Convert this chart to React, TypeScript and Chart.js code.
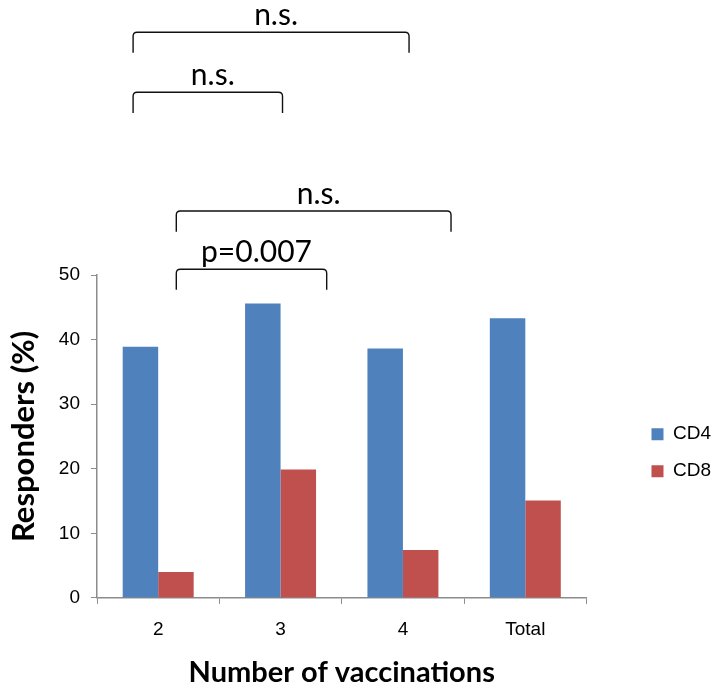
import React, { useEffect, useRef } from 'react';
import { Chart, registerables } from 'chart.js';

Chart.register(...registerables);

const categories = ['2', '3', '4', 'Total'];
const cd4Values = [38.9, 45.6, 38.6, 43.3];
const cd8Values = [4.0, 19.9, 7.4, 15.1];
const yTickValues = [0, 10, 20, 30, 40, 50];

// significance brackets (x in category-index units, y in data units)
const bracketLabels = ['n.s.', 'n.s.', 'n.s.', 'p=0.007'];
const bracketStart = [-0.205, -0.205, 0.148, 0.148];
const bracketEnd = [2.05, 1.016, 2.393, 1.377];
const bracketTop = [87.6, 78.3, 59.9, 50.9];
const bracketFoot = [84.4, 75.1, 56.7, 47.7];

const bracketPlugin = {
  id: 'brackets',
  afterDraw(chart: any) {
    const { ctx } = chart;
    const xs = chart.scales.x;
    const ys = chart.scales.y;
    const x0 = xs.getPixelForValue(0);
    const step = xs.getPixelForValue(1) - x0;
    const px = (v: number) => x0 + v * step;
    ctx.save();
    ctx.strokeStyle = '#111';
    ctx.lineWidth = 1.4;
    ctx.fillStyle = '#000';
    ctx.font = '30px Lato';
    ctx.textAlign = 'center';
    ctx.textBaseline = 'alphabetic';
    bracketLabels.forEach((label, i) => {
      const l = px(bracketStart[i]);
      const r = px(bracketEnd[i]);
      const t = ys.getPixelForValue(bracketTop[i]);
      const f = ys.getPixelForValue(bracketFoot[i]);
      const rad = 4;
      ctx.beginPath();
      ctx.moveTo(l, f);
      ctx.lineTo(l, t + rad);
      ctx.quadraticCurveTo(l, t, l + rad, t);
      ctx.lineTo(r - rad, t);
      ctx.quadraticCurveTo(r, t, r, t + rad);
      ctx.lineTo(r, f);
      ctx.stroke();
      ctx.fillText(label, (l + r) / 2 + 5, t - 7);
    });
    ctx.restore();
  },
};

export default function App() {
  const ref = useRef<HTMLCanvasElement | null>(null);
  useEffect(() => {
    if (!ref.current) return;
    const axisColor = '#8c8c8c';
    const chart = new Chart(ref.current, {
      type: 'bar',
      data: {
        labels: categories,
        datasets: [
          {
            label: 'CD4',
            data: cd4Values,
            backgroundColor: '#4F81BD',
            categoryPercentage: 0.58,
            barPercentage: 1.0,
          },
          {
            label: 'CD8',
            data: cd8Values,
            backgroundColor: '#C0504D',
            categoryPercentage: 0.58,
            barPercentage: 1.0,
          },
        ],
      },
      options: {
        animation: false,
        responsive: false,
        maintainAspectRatio: false,
        layout: { padding: { top: 275, bottom: 0, left: 0, right: -7 } },
        plugins: {
          tooltip: { enabled: false },
          legend: {
            position: 'right',
            fullSize: false,
            title: { display: true, text: '', font: { size: 12 }, padding: 9 },
            labels: {
              boxWidth: 12,
              boxHeight: 12,
              padding: 18,
              color: '#000',
              font: { family: 'Liberation Sans', size: 19 },
            },
          },
        },
        scales: {
          x: {
            type: 'category',
            offset: true,
            grid: {
              display: true,
              offset: true,
              drawOnChartArea: false,
              tickLength: 6,
              color: axisColor,
            },
            border: { display: true, color: axisColor, width: 1.5 },
            ticks: {
              color: '#000',
              padding: 14.5,
              font: { family: 'Liberation Sans', size: 19 },
            },
            title: {
              display: true,
              text: 'Number of vaccinations',
              color: '#000',
              font: { family: 'Lato', size: 29, weight: 'bold' },
              padding: { top: 0, bottom: 1.5 },
            },
          },
          y: {
            type: 'linear',
            min: 0,
            max: 50,
            afterBuildTicks: (scale: any) => {
              scale.ticks = yTickValues.map((v) => ({ value: v }));
            },
            afterFit: (scale: any) => {
              scale.width = 97;
            },
            grid: {
              display: true,
              drawOnChartArea: false,
              tickLength: 6,
              color: axisColor,
            },
            border: { display: true, color: axisColor, width: 1.5 },
            ticks: {
              color: '#000',
              padding: 11,
              font: { family: 'Liberation Sans', size: 19 },
            },
            title: {
              display: true,
              text: 'Responders (%)',
              color: '#000',
              font: { family: 'Lato', size: 31, weight: 'bold' },
              padding: { top: 5, bottom: 10 },
            },
          },
          spacer: {
            type: 'linear',
            position: 'right',
            display: true,
            grid: { display: false },
            border: { display: false },
            ticks: { display: false },
            afterFit: (scale: any) => {
              scale.width = 47;
            },
          },
        },
      },
      plugins: [bracketPlugin],
    } as any);
    return () => chart.destroy();
  }, []);
  return (
    <div style={{ position: 'absolute', left: 0, top: 0, width: 714, height: 692 }}>
      <canvas ref={ref} width={714} height={692} style={{ display: 'block' }} />
    </div>
  );
}
